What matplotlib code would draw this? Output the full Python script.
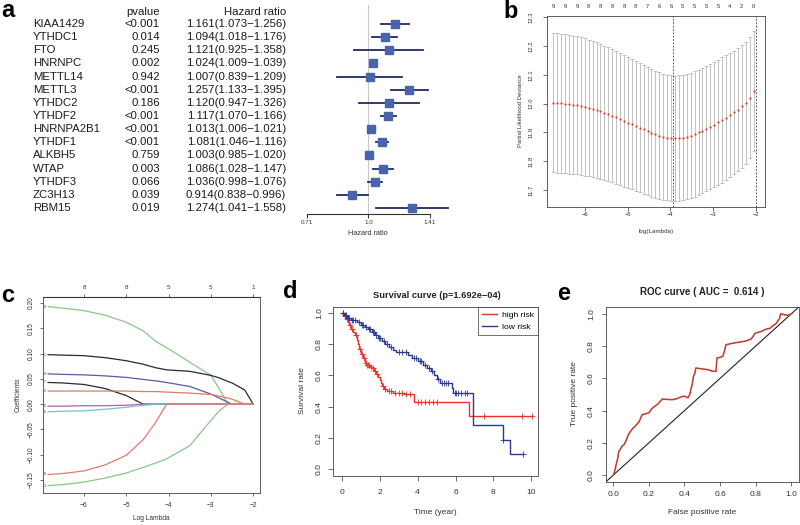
import numpy as np
import matplotlib
matplotlib.use('Agg')
import matplotlib.pyplot as plt

plt.rcParams['font.family'] = ['Liberation Sans', 'DejaVu Sans']

# ---------------- data ----------------
# a: univariate cox regression
genes = ['KIAA1429', 'YTHDC1', 'FTO', 'HNRNPC', 'METTL14', 'METTL3', 'YTHDC2', 'YTHDF2',
         'HNRNPA2B1', 'YTHDF1', 'ALKBH5', 'WTAP', 'YTHDF3', 'ZC3H13', 'RBM15']
pvalues = ['<0.001', '0.014', '0.245', '0.002', '0.942', '<0.001', '0.186', '<0.001',
           '<0.001', '<0.001', '0.759', '0.003', '0.066', '0.039', '0.019']
hr = [1.161, 1.094, 1.121, 1.024, 1.007, 1.257, 1.120, 1.117, 1.013, 1.081, 1.003, 1.086, 1.036, 0.914, 1.274]
hr_low = [1.073, 1.018, 0.925, 1.009, 0.839, 1.133, 0.947, 1.070, 1.006, 1.046, 0.985, 1.028, 0.998, 0.838, 1.041]
hr_high = [1.256, 1.176, 1.358, 1.039, 1.209, 1.395, 1.326, 1.166, 1.021, 1.116, 1.020, 1.147, 1.076, 0.996, 1.558]

# b: cross-validation curve
cv_loglambda = np.linspace(-6.75, -2.05, 52)
cv_mean = [12.003, 12.002, 12.001, 12.000, 11.998, 11.996, 11.994, 11.991, 11.988, 11.985,
           11.981, 11.977, 11.973, 11.968, 11.963, 11.958, 11.952, 11.946, 11.940, 11.934,
           11.928, 11.922, 11.916, 11.910, 11.904, 11.898, 11.893, 11.889, 11.885, 11.882,
           11.880, 11.879,
           11.880, 11.882, 11.885, 11.889, 11.894, 11.900, 11.906, 11.913, 11.920, 11.927,
           11.935, 11.943, 11.951, 11.960, 11.969, 11.979, 11.990, 12.003, 12.020, 12.045]
cv_sd = [0.242, 0.242, 0.242, 0.241, 0.241, 0.240, 0.240, 0.239, 0.238, 0.237,
         0.236, 0.235, 0.234, 0.233, 0.232, 0.231, 0.230, 0.229, 0.228, 0.227,
         0.226, 0.225, 0.224, 0.223, 0.222, 0.221, 0.220, 0.219, 0.219, 0.218,
         0.218, 0.218,
         0.218, 0.218, 0.218, 0.218, 0.218, 0.218, 0.218, 0.218, 0.218, 0.218,
         0.217, 0.217, 0.216, 0.216, 0.215, 0.214, 0.213, 0.212, 0.210, 0.208]
cv_nonzero = ['9', '9', '9', '8', '8', '8', '8', '8', '7', '6', '6', '5', '5', '5', '5', '4', '2', '0']
lambda_min = -3.95
lambda_1se = -2.0

# c: lasso coefficient paths
path_x = [-6.85, -6.5, -6.0, -5.5, -5.0, -4.6, -4.3, -4.05, -3.5, -3.0, -2.8, -2.6, -2.5, -2.2, -2.0]
coef_green_top = [0.193, 0.190, 0.185, 0.176, 0.162, 0.145, 0.124, 0.112, 0.083, 0.057, 0.030, 0.0, 0.0, 0.0, 0.0]
coef_black_top = [0.098, 0.097, 0.096, 0.092, 0.086, 0.079, 0.072, 0.068, 0.065, 0.057, 0.052, 0.045, 0.042, 0.028, 0.0]
coef_blue = [0.060, 0.059, 0.058, 0.056, 0.053, 0.049, 0.046, 0.043, 0.035, 0.020, 0.012, 0.004, 0.0, 0.0, 0.0]
coef_black_mid = [0.043, 0.042, 0.039, 0.031, 0.017, 0.0, 0.0, 0.0, 0.0, 0.0, 0.0, 0.0, 0.0, 0.0, 0.0]
coef_red_top = [0.026, 0.026, 0.026, 0.026, 0.026, 0.025, 0.025, 0.024, 0.022, 0.019, 0.016, 0.012, 0.010, 0.0, 0.0]
coef_magenta = [-0.004, -0.004, -0.003, -0.003, -0.002, 0.0, 0.0, 0.0, 0.0, 0.0, 0.0, 0.0, 0.0, 0.0, 0.0]
coef_cyan = [-0.015, -0.014, -0.013, -0.010, -0.006, -0.002, 0.0, 0.0, 0.0, 0.0, 0.0, 0.0, 0.0, 0.0, 0.0]
coef_green_bottom = [-0.161, -0.159, -0.154, -0.146, -0.136, -0.125, -0.116, -0.108, -0.082, -0.032, -0.013, 0.0, 0.0, 0.0, 0.0]
coef_red_bottom = [-0.139, -0.137, -0.132, -0.120, -0.101, -0.070, -0.035, 0.0, 0.0, 0.0, 0.0, 0.0, 0.0, 0.0, 0.0]
path_top_ticks = [-6, -5, -4, -3, -2]
path_top_labels = ['8', '8', '5', '5', '1']

# d: Kaplan-Meier
high_t = [0, 0.1, 0.2, 0.3, 0.4, 0.5, 0.6, 0.7, 0.8, 0.85, 0.9, 1.0, 1.1, 1.2, 1.3, 1.5, 1.6, 1.7,
          1.8, 1.9, 2.0, 2.05, 2.1, 2.2, 2.4, 2.7, 3.3, 3.8, 6.7]
high_s = [1.0, 0.98, 0.96, 0.94, 0.92, 0.90, 0.88, 0.86, 0.83, 0.80, 0.77, 0.74, 0.71, 0.68, 0.665,
          0.655, 0.645, 0.63, 0.61, 0.59, 0.57, 0.55, 0.53, 0.515, 0.50, 0.49, 0.48, 0.43, 0.34]
high_end = 10.05
high_cens = [0.05, 0.15, 0.25, 0.45, 0.55, 0.75, 0.95, 1.05, 1.15, 1.25, 1.35, 1.4, 1.45, 1.55, 1.65,
             1.75, 1.85, 2.15, 2.3, 2.5, 2.6, 2.8, 3.0, 3.2, 3.4, 3.6, 4.0, 4.2, 4.4, 4.6, 4.8, 5.0,
             7.5, 9.5, 10.05]
low_t = [0, 0.1, 0.25, 0.5, 0.8, 1.0, 1.2, 1.4, 1.6, 1.75, 1.9, 2.1, 2.3, 2.5, 2.7, 2.85, 3.5, 3.7,
         4.0, 4.3, 4.5, 4.7, 4.85, 5.0, 5.2, 5.8, 5.85, 6.9, 8.5, 8.85]
low_s = [1.0, 0.985, 0.97, 0.955, 0.94, 0.925, 0.91, 0.895, 0.88, 0.86, 0.84, 0.82, 0.80, 0.78, 0.76,
         0.75, 0.73, 0.71, 0.69, 0.67, 0.65, 0.63, 0.60, 0.58, 0.555, 0.52, 0.49, 0.285, 0.19, 0.095]
low_end = 9.55
low_cens = [0.05, 0.15, 0.2, 0.3, 0.4, 0.55, 0.6, 0.7, 0.9, 1.05, 1.1, 1.3, 1.45, 1.5, 1.65, 1.7, 1.8,
            1.95, 2.0, 2.2, 2.4, 2.6, 3.0, 3.2, 3.4, 3.8, 3.9, 4.1, 4.2, 4.4, 4.6, 4.75, 5.1, 5.3,
            5.4, 5.5, 5.6, 5.95, 6.05, 6.15, 6.3, 6.5, 6.6, 8.5, 9.55]

# e: ROC
roc_fpr = [0.0, 0.003, 0.012, 0.019, 0.025, 0.032, 0.04, 0.05, 0.062, 0.075, 0.085, 0.098, 0.11, 0.126,
           0.145, 0.163, 0.18, 0.2, 0.215, 0.229, 0.25, 0.276, 0.3, 0.333, 0.36, 0.38, 0.4, 0.42, 0.43,
           0.436, 0.445, 0.451, 0.458, 0.464, 0.49, 0.53, 0.555, 0.577, 0.58, 0.583, 0.6, 0.615, 0.625,
           0.633, 0.66, 0.7, 0.74, 0.774, 0.785, 0.797, 0.83, 0.859, 0.88, 0.897, 0.915, 0.934, 0.94,
           0.962, 0.98, 1.0]
roc_tpr = [0.0, 0.004, 0.04, 0.077, 0.1, 0.148, 0.16, 0.18, 0.19, 0.22, 0.25, 0.272, 0.29, 0.307,
           0.33, 0.375, 0.38, 0.386, 0.41, 0.423, 0.44, 0.472, 0.47, 0.468, 0.475, 0.485, 0.49, 0.48,
           0.5, 0.53, 0.57, 0.612, 0.63, 0.664, 0.66, 0.654, 0.645, 0.643, 0.69, 0.726, 0.73, 0.736,
           0.77, 0.808, 0.815, 0.823, 0.83, 0.843, 0.86, 0.88, 0.89, 0.905, 0.91, 0.926, 0.94, 0.973,
           1.0, 0.994, 0.99, 1.0]
auc = 0.614

# ---------------- layout helpers (pixel based) ----------------
W, H = 800, 525
fig = plt.figure(figsize=(W / 100, H / 100), dpi=100)


def ax_px(x0, y0, x1, y1):
    return fig.add_axes([x0 / W, 1 - y1 / H, (x1 - x0) / W, (y1 - y0) / H])


def ftext(x, y, s, **kw):
    fig.text(x / W, 1 - y / H, s, **kw)


def r_style(ax, fs, xpad, ypad, tick_len=2.5):
    for s in ax.spines.values():
        s.set_linewidth(0.6)
        s.set_color('#444444')
    ax.tick_params(direction='out', length=tick_len, width=0.5, labelsize=fs, colors='#333333')
    ax.tick_params(axis='x', pad=xpad)
    ax.tick_params(axis='y', pad=ypad, labelrotation=90)
    plt.setp(ax.get_yticklabels(), va='center')


txt_col = '#1a1a1a'
tab_fs = 8.2

# ---------------- a ----------------
row_top, row_step = 24, 13.14
ylim_a = (14 + (214 - 208.0) / row_step, -(24 - 5) / row_step)

ax_t = ax_px(0, 5, 300, 214)
ax_t.set_xlim(0, 300)
ax_t.set_ylim(*ylim_a)
ax_t.axis('off')
ax_t.text(160, -0.9, 'pvalue', ha='right', va='center', fontsize=tab_fs, color=txt_col)
ax_t.text(286, -0.9, 'Hazard ratio', ha='right', va='center', fontsize=tab_fs, color=txt_col)
for i, g in enumerate(genes):
    ax_t.text(33, i, g, ha='left', va='center', fontsize=tab_fs, color=txt_col)
    ax_t.text(160, i, pvalues[i], ha='right', va='center', fontsize=tab_fs, color=txt_col)
    ax_t.text(286, i, f'{hr[i]:.3f}({hr_low[i]:.3f}\u2212{hr_high[i]:.3f})',
              ha='right', va='center', fontsize=tab_fs, color=txt_col)

ax_f = ax_px(307, 5, 430, 214)
ax_f.set_xscale('log')
ax_f.set_xlim(0.71, 1.41)
ax_f.set_ylim(*ylim_a)
ax_f.axvline(1.0, color='#c8c8c8', lw=0.8, zorder=1)
for i in range(len(genes)):
    ax_f.plot([hr_low[i], hr_high[i]], [i, i], color='#1f2a66', lw=1.3, clip_on=False, zorder=2)
    ax_f.plot(hr[i], i, 's', color='#4a63ad', ms=6.2, mec='#4a63ad', clip_on=False, zorder=3)
for s in ['top', 'left', 'right']:
    ax_f.spines[s].set_visible(False)
ax_f.spines['bottom'].set_linewidth(0.8)
ax_f.spines['bottom'].set_color('#333333')
ax_f.set_yticks([])
ax_f.set_xticks([0.71, 1.0, 1.41])
ax_f.set_xticklabels(['0.71', '1.0', '1.41'])
ax_f.xaxis.set_minor_locator(matplotlib.ticker.NullLocator())
ax_f.tick_params(axis='x', length=3, width=0.7, labelsize=4.5, pad=1.5, colors='#333333')
ftext(368, 233, 'Hazard ratio', ha='center', va='center', fontsize=5.3, color='#333333')

# ---------------- b ----------------
ax_b = ax_px(547, 15.7, 765, 206.7)
ax_b.errorbar(cv_loglambda, cv_mean, yerr=cv_sd, fmt='none', ecolor='#b8b8b8',
              elinewidth=0.6, capsize=1.2, capthick=0.6, zorder=1)
ax_b.plot(cv_loglambda, cv_mean, 'o', color='#e0402a', ms=1.6, mew=0, zorder=3)
ax_b.axvline(lambda_min, color='#333333', lw=0.6, ls=(0, (2, 2)))
ax_b.axvline(lambda_1se, color='#333333', lw=0.6, ls=(0, (2, 2)))
ax_b.set_xlim(-6.9, -1.78)
ax_b.set_ylim(11.642, 12.305)
ax_b.set_xticks([-6, -5, -4, -3, -2])
ax_b.set_yticks([11.7, 11.8, 11.9, 12.0, 12.1, 12.2, 12.3])
ax_b.set_yticklabels(['11.7', '11.8', '11.9', '12.0', '12.1', '12.2', '12.3'])
r_style(ax_b, 4.2, xpad=1.0, ypad=6.5, tick_len=3)
ax_b_top = ax_b.secondary_xaxis('top')
ax_b_top.set_xticks(cv_loglambda[::3])
ax_b_top.set_xticklabels(cv_nonzero)
ax_b_top.tick_params(length=0, labelsize=4.2, pad=5, colors='#333333')
ax_b_top.spines['top'].set_visible(False)
ftext(520, 111, 'Partial Likelihood Deviance', rotation=90, ha='center', va='center',
      fontsize=4.3, color='#333333')
ftext(656, 232, 'log(Lambda)', ha='center', va='center', fontsize=4.5, color='#333333')

# ---------------- c ----------------
ax_c = ax_px(43, 297, 260, 492.7)
paths = [
    (coef_green_top, '#86c986', '9'),
    (coef_black_top, '#2a2a2a', '1'),
    (coef_blue, '#5a5aa8', '4'),
    (coef_black_mid, '#2a2a2a', '7'),
    (coef_red_top, '#e07a6a', '2'),
    (coef_magenta, '#b060b0', '6'),
    (coef_cyan, '#74c6c6', '5'),
    (coef_green_bottom, '#86c986', '3'),
    (coef_red_bottom, '#e07a6a', '8'),
]
for ys, col, lab in paths:
    ax_c.plot(path_x, ys, color=col, lw=0.9)
    ax_c.text(-6.93, ys[0], lab, fontsize=2.6, ha='center', va='center', color='#333333')
ax_c.set_xlim(-6.97, -1.84)
ax_c.set_ylim(-0.175, 0.212)
ax_c.set_xticks([-6, -5, -4, -3, -2])
ax_c.set_yticks([-0.15, -0.10, -0.05, 0.0, 0.05, 0.10, 0.15, 0.20])
ax_c.set_yticklabels(['\u22120.15', '\u22120.10', '\u22120.05', '0.00', '0.05', '0.10', '0.15', '0.20'])
ax_c.set_xticklabels(['\u22126', '\u22125', '\u22124', '\u22123', '\u22122'])
r_style(ax_c, 4.8, xpad=4, ypad=3.5, tick_len=2.5)
ax_c_top = ax_c.secondary_xaxis('top')
ax_c_top.set_xticks(path_top_ticks)
ax_c_top.set_xticklabels(path_top_labels)
ax_c_top.tick_params(length=2, width=0.5, labelsize=4.5, pad=3, colors='#333333')
ftext(18, 395, 'Coefficients', rotation=90, ha='center', va='center', fontsize=4.8, color='#333333')
ftext(151, 518, 'Log Lambda', ha='center', va='center', fontsize=4.8, color='#333333')

# ---------------- d ----------------
ax_d = ax_px(333.3, 306.7, 538, 475.5)
col_high, col_low = '#e8322a', '#2b3a90'
for t, s, end, cens, col, lab in [(high_t, high_s, high_end, high_cens, col_high, 'high risk'),
                                  (low_t, low_s, low_end, low_cens, col_low, 'low risk')]:
    ax_d.step(list(t) + [end], list(s) + [s[-1]], where='post', color=col, lw=1.0, label=lab)
    idx = np.searchsorted(t, cens, side='right') - 1
    ax_d.plot(cens, np.array(s)[idx], '+', color=col, ms=4.5, mew=0.6)
ax_d.set_xlim(-0.45, 10.35)
ax_d.set_ylim(-0.04, 1.04)
ax_d.set_xticks([0, 2, 4, 6, 8, 10])
ax_d.set_yticks([0.0, 0.2, 0.4, 0.6, 0.8, 1.0])
ax_d.set_yticklabels(['0.0', '0.2', '0.4', '0.6', '0.8', '1.0'])
r_style(ax_d, 6.1, xpad=6, ypad=4, tick_len=3.5)
leg = ax_d.legend(loc='upper right', fontsize=6.1, frameon=True, fancybox=False,
                  borderaxespad=0, handlelength=1.7, handletextpad=0.6, borderpad=0.5,
                  labelspacing=0.5)
leg.get_frame().set_edgecolor('#333333')
leg.get_frame().set_linewidth(0.6)
ftext(437, 295, 'Survival curve (p=1.692e\u221204)', ha='center', va='center', fontsize=6.7,
      fontweight='bold', color='#222222')
ftext(302, 391, 'Survival rate', rotation=90, ha='center', va='center', fontsize=6.0, color='#333333')
ftext(435, 513, 'Time (year)', ha='center', va='center', fontsize=6.0, color='#333333')

# ---------------- e ----------------
ax_e = ax_px(606, 307.3, 798.5, 481.7)
ax_e.plot([-0.04, 1.04], [-0.04, 1.04], color='#222222', lw=0.8)
ax_e.plot(roc_fpr, roc_tpr, color='#e2523f', lw=1.2)
ax_e.plot(roc_fpr, roc_tpr, color='#8a3030', lw=0.35)
ax_e.set_xlim(-0.04, 1.04)
ax_e.set_ylim(-0.04, 1.04)
ax_e.set_xticks([0.0, 0.2, 0.4, 0.6, 0.8, 1.0])
ax_e.set_yticks([0.0, 0.2, 0.4, 0.6, 0.8, 1.0])
ax_e.set_xticklabels(['0.0', '0.2', '0.4', '0.6', '0.8', '1.0'])
ax_e.set_yticklabels(['0.0', '0.2', '0.4', '0.6', '0.8', '1.0'])
r_style(ax_e, 6.1, xpad=4, ypad=5, tick_len=3)
ftext(702, 292, f'ROC curve ( AUC =  {auc:.3f} )', ha='center', va='center', fontsize=7.0,
      fontweight='bold', color='#222222')
ftext(575, 394, 'True positive rate', rotation=90, ha='center', va='center', fontsize=6.0, color='#333333')
ftext(702, 512, 'False positive rate', ha='center', va='center', fontsize=6.0, color='#333333')

# ---------------- panel letters ----------------
for x, y, s in [(1, 17, 'a'), (503, 18, 'b'), (1, 302, 'c'), (283, 298, 'd'), (557, 300, 'e')]:
    ftext(x, y, s, ha='left', va='baseline', fontsize=17, fontweight='bold', color='black')

fig.savefig('out.png', dpi=100)
